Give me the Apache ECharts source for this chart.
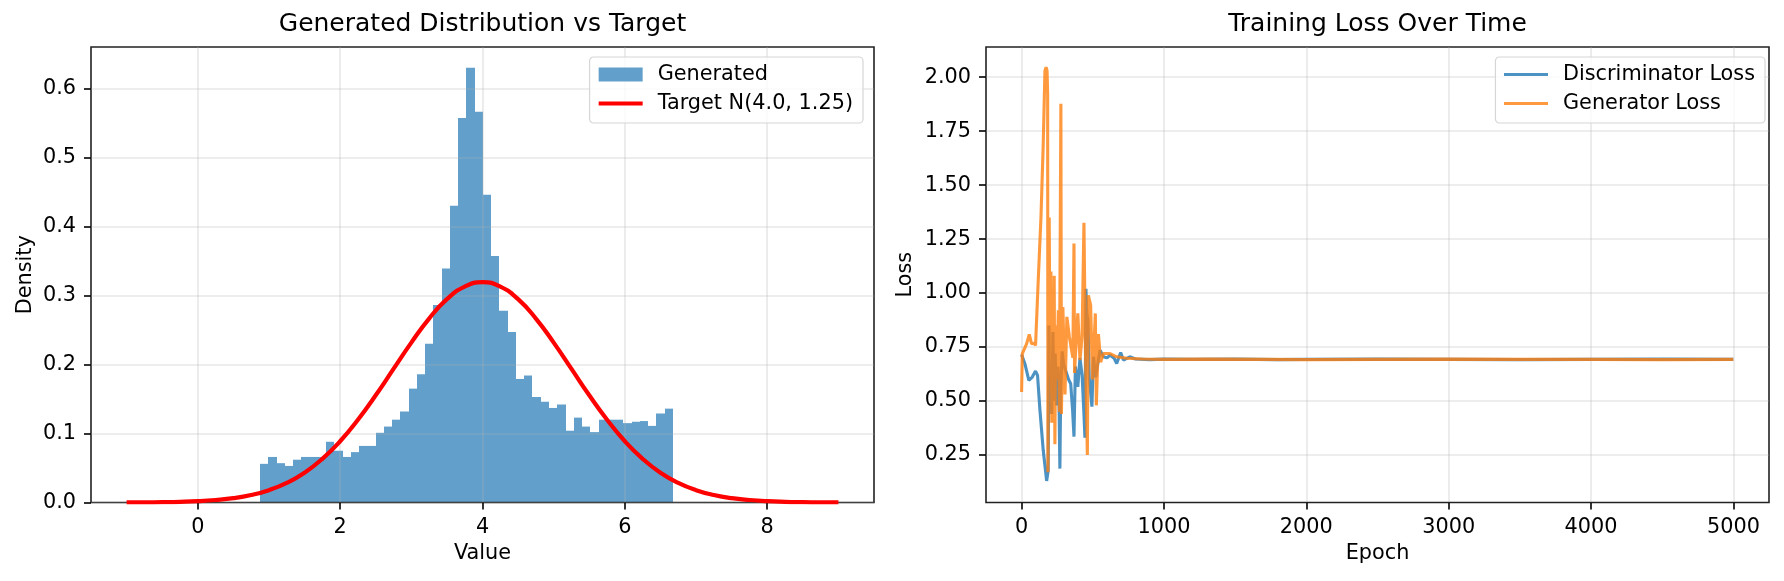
<!DOCTYPE html>
<html>
<head>
<meta charset="utf-8">
<script src="https://cdn.jsdelivr.net/npm/echarts@6/dist/echarts.min.js"></script>
<style>
  html, body { margin: 0; padding: 0; background: #fff; }
  #chart { width: 1784px; height: 581px; }
</style>
</head>
<body>
<div id="chart"></div>
<script>
// ---- left panel: histogram of generated samples + target pdf ----
const binLo = 0.877;
const binHi = 6.673;
const density = [
  0.056, 0.066, 0.057, 0.053, 0.062, 0.066, 0.066, 0.066, 0.088, 0.075,
  0.066, 0.073, 0.082, 0.082, 0.101, 0.110, 0.120, 0.132, 0.165, 0.186,
  0.230, 0.286, 0.339, 0.430, 0.557, 0.630, 0.566, 0.446, 0.357, 0.278,
  0.247, 0.179, 0.184, 0.153, 0.146, 0.137, 0.142, 0.104, 0.123, 0.110,
  0.102, 0.120, 0.120, 0.120, 0.115, 0.117, 0.118, 0.111, 0.129, 0.136
];
const targetX = [
  -1, -0.75, -0.5, -0.25, 0, 0.25, 0.5, 0.75, 1, 1.25, 1.5, 1.75, 2, 2.25, 2.5, 2.75,
  3, 3.25, 3.5, 3.75, 4, 4.25, 4.5, 4.75, 5, 5.25, 5.5, 5.75, 6, 6.25, 6.5, 6.75,
  7, 7.25, 7.5, 7.75, 8, 8.25, 8.5, 8.75, 9
];
const targetY = [
  0.0001, 0.0002, 0.0005, 0.0010, 0.0019, 0.0036, 0.0063, 0.0109, 0.0179, 0.0284,
  0.0432, 0.0632, 0.0887, 0.1198, 0.1553, 0.1936, 0.2317, 0.2665, 0.2946, 0.3128,
  0.3192, 0.3128, 0.2946, 0.2665, 0.2317, 0.1936, 0.1553, 0.1198, 0.0887, 0.0632,
  0.0432, 0.0284, 0.0179, 0.0109, 0.0063, 0.0036, 0.0019, 0.0010, 0.0005, 0.0002, 0.0001
];
const distXTicks = [0, 2, 4, 6, 8];
const distYTicks = [0, 0.1, 0.2, 0.3, 0.4, 0.5, 0.6];

// ---- right panel: losses ----
const dEpoch = [0, 23, 51, 75, 98, 112, 129, 152, 176, 183, 187, 192, 197, 205, 212, 220, 228, 236, 245, 255,
  262, 269, 275, 285, 295, 310, 330, 345, 358, 368, 378, 395, 410, 425, 438, 445, 452, 458, 466, 475,
  494, 505, 520, 551, 575, 600, 621, 650, 668, 696, 715, 760, 800, 900, 1000, 1200, 1500, 1800, 2000,
  2500, 3000, 3500, 4000, 4500, 4999];
const dLoss = [0.716, 0.673, 0.596, 0.611, 0.639, 0.619, 0.457, 0.272, 0.130, 0.125, 0.18, 0.85, 0.47, 0.62, 0.44, 0.82, 0.50, 0.72, 0.48, 0.66,
  0.55, 0.187, 0.56, 0.73, 0.67, 0.64, 0.60, 0.58, 0.46, 0.335, 0.66, 0.566, 0.70, 0.62, 0.44, 0.33, 1.02, 0.906, 0.875, 0.61,
  0.474, 0.705, 0.61, 0.736, 0.705, 0.70, 0.713, 0.698, 0.674, 0.725, 0.69, 0.705, 0.695, 0.692, 0.694, 0.693, 0.694, 0.692, 0.693,
  0.694, 0.693, 0.692, 0.693, 0.694, 0.693];
const gEpoch = [0, 5, 35, 54, 70, 89, 98, 117, 136, 152, 164, 172, 179, 183, 185, 190, 194, 200, 206, 212,
  218, 225, 229, 234, 240, 248, 258, 265, 276, 280, 290, 305, 318, 335, 360, 368, 372, 385, 395, 410,
  425, 438, 448, 462, 469, 485, 498, 518, 525, 540, 555, 575, 621, 668, 738, 850, 1000, 1300, 1700,
  2000, 2500, 3000, 3500, 4000, 4500, 4999];
const gLoss = [0.542, 0.72, 0.765, 0.809, 0.765, 0.768, 0.758, 1.06, 1.35, 1.69, 2.03, 2.046, 2.03, 1.92, 0.17, 1.0, 1.35, 0.62, 1.10, 0.40,
  0.95, 0.55, 1.08, 0.30, 0.85, 0.60, 0.92, 0.45, 1.877, 0.44, 0.935, 0.53, 0.89, 0.80, 0.70, 1.23, 0.63, 0.80, 0.906, 0.69,
  0.80, 1.326, 0.75, 0.25, 0.99, 0.944, 0.60, 0.906, 0.48, 0.81, 0.68, 0.72, 0.72, 0.705, 0.698, 0.695, 0.693, 0.694, 0.693,
  0.692, 0.693, 0.694, 0.693, 0.693, 0.692, 0.693];
const lossXTicks = [0, 1000, 2000, 3000, 4000, 5000];
const lossYTicks = [0.25, 0.5, 0.75, 1.0, 1.25, 1.5, 1.75, 2.0];

const FONT = 'DejaVu Sans';
const gridLine = { show: true, lineStyle: { color: '#b0b0b0', opacity: 0.3, width: 1.6 } };
const tick = { show: true, length: 7, lineStyle: { color: '#000', width: 1.6 } };
const noSymbol = { opacity: 0 };

function valueAxis(gridIndex, min, max, ticks, fmt, name, nameGap) {
  return {
    type: 'value', gridIndex, min, max,
    name, nameLocation: 'middle', nameGap,
    nameTextStyle: { fontFamily: FONT, fontSize: 20.8, color: '#000' },
    axisLine: { show: false, onZero: false },
    axisTick: Object.assign({ customValues: ticks }, tick),
    axisLabel: { customValues: ticks, formatter: fmt, margin: 15, fontFamily: FONT, fontSize: 20.8, color: '#000' },
    splitLine: gridLine
  };
}

function legendBox(right, data) {
  return {
    orient: 'vertical', right, top: 57, itemWidth: 44, itemHeight: 14, itemGap: 8,
    padding: [7, 10, 9, 7], borderColor: '#d6d6d6', borderWidth: 1.2, borderRadius: 4,
    backgroundColor: 'rgba(255,255,255,0.8)',
    textStyle: { fontFamily: FONT, fontSize: 20.8, color: '#000', padding: [0, 0, 0, 10] },
    data
  };
}

const chart = echarts.init(document.getElementById('chart'));
chart.setOption({
  animation: false,
  backgroundColor: '#fff',
  title: [
    { text: 'Generated Distribution vs Target', left: 482.5, top: 12, textAlign: 'center', padding: 0,
      textStyle: { fontFamily: FONT, fontSize: 25, fontWeight: 'normal', color: '#000' } },
    { text: 'Training Loss Over Time', left: 1377.5, top: 12, textAlign: 'center', padding: 0,
      textStyle: { fontFamily: FONT, fontSize: 25, fontWeight: 'normal', color: '#000' } }
  ],
  grid: [
    { left: 91, top: 47, width: 783, height: 455.5, show: true, borderColor: '#222', borderWidth: 1.6,
      backgroundColor: 'transparent', outerBoundsMode: 'none' },
    { left: 986, top: 47, width: 783, height: 455.5, show: true, borderColor: '#222', borderWidth: 1.6,
      backgroundColor: 'transparent', outerBoundsMode: 'none' }
  ],
  legend: [
    legendBox(921, [
      { name: 'Generated', icon: 'rect' },
      { name: 'Target N(4.0, 1.25)', itemStyle: noSymbol, lineStyle: { width: 4.2 } }
    ]),
    legendBox(19, [
      { name: 'Discriminator Loss', itemStyle: noSymbol, lineStyle: { width: 3.1 } },
      { name: 'Generator Loss', itemStyle: noSymbol, lineStyle: { width: 3.1 } }
    ])
  ],
  xAxis: [
    valueAxis(0, -1.5, 9.5, distXTicks, v => String(v), 'Value', 39),
    valueAxis(1, -250, 5250, lossXTicks, v => String(v), 'Epoch', 39)
  ],
  yAxis: [
    valueAxis(0, 0, 0.66, distYTicks, v => v.toFixed(1), 'Density', 55),
    valueAxis(1, 0.03, 2.14, lossYTicks, v => v.toFixed(2), 'Loss', 70)
  ],
  series: [
    {
      name: 'Generated', type: 'custom', xAxisIndex: 0, yAxisIndex: 0, z: -1,
      itemStyle: { color: '#62a0cb' },
      data: density.map((d, i) => [i, d]),
      renderItem: (params, api) => {
        const w = (binHi - binLo) / density.length;
        const i = api.value(0);
        const p0 = api.coord([binLo + i * w, 0]);
        const p1 = api.coord([binLo + (i + 1) * w, api.value(1)]);
        const x0 = Math.round(p0[0]), x1 = Math.round(p1[0]);
        return {
          type: 'rect',
          shape: { x: x0, y: p1[1], width: x1 - x0, height: p0[1] - p1[1] },
          style: { fill: api.visual('color') }
        };
      }
    },
    {
      name: 'Target N(4.0, 1.25)', type: 'line', xAxisIndex: 0, yAxisIndex: 0,
      symbol: 'none', smooth: true, color: '#ff0000',
      lineStyle: { color: '#ff0000', width: 4.2 },
      data: targetX.map((x, i) => [x, targetY[i]])
    },
    {
      name: 'Discriminator Loss', type: 'line', xAxisIndex: 1, yAxisIndex: 1,
      symbol: 'none', color: '#1f77b4',
      lineStyle: { color: '#1f77b4', width: 3.1, opacity: 0.8 },
      data: dEpoch.map((e, i) => [e, dLoss[i]])
    },
    {
      name: 'Generator Loss', type: 'line', xAxisIndex: 1, yAxisIndex: 1,
      symbol: 'none', color: '#ff7f0e',
      lineStyle: { color: '#ff7f0e', width: 3.1, opacity: 0.8 },
      data: gEpoch.map((e, i) => [e, gLoss[i]])
    }
  ]
});
</script>
</body>
</html>
